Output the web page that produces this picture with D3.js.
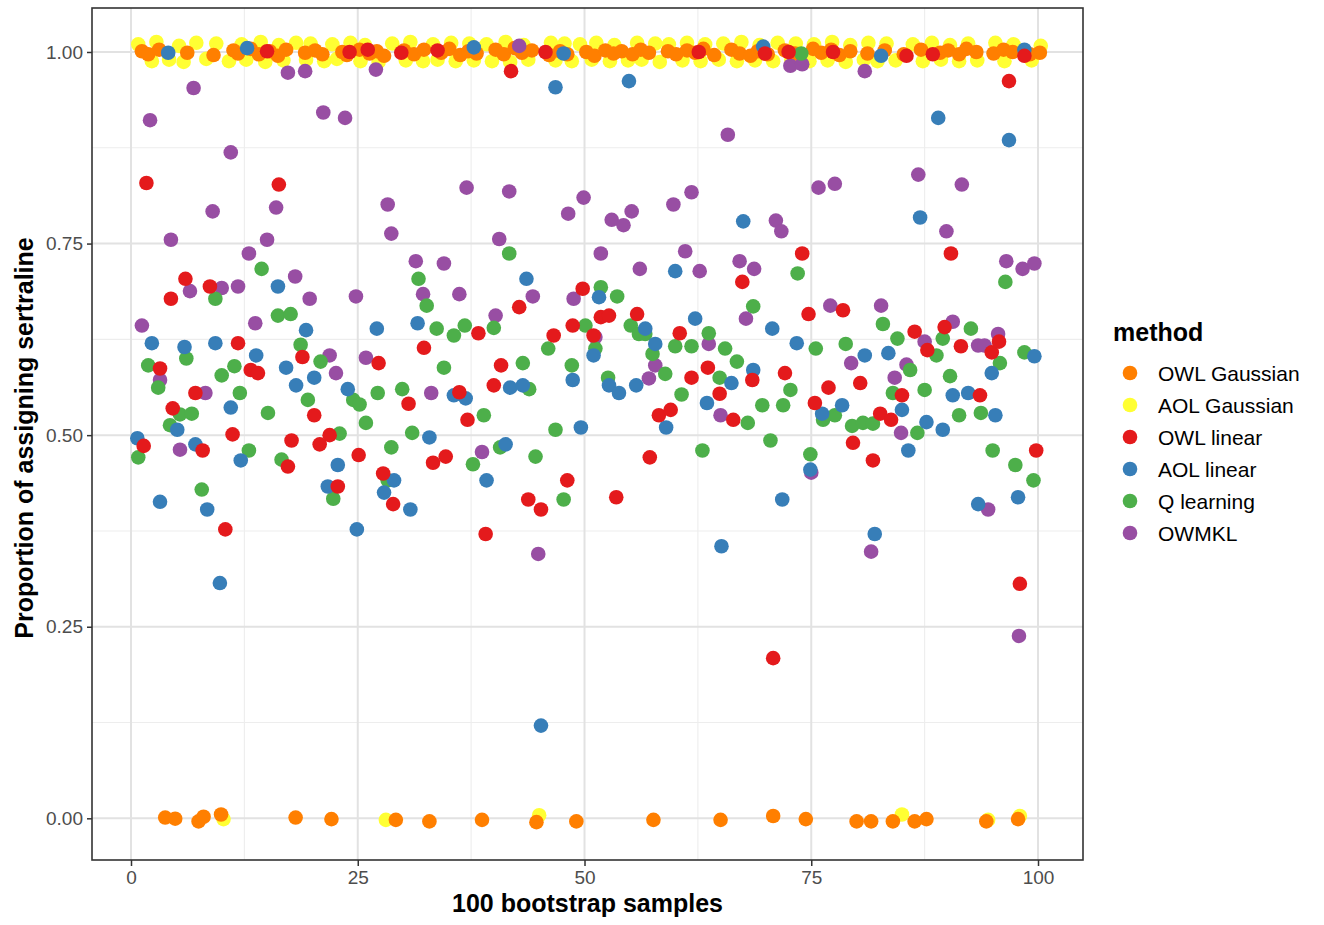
<!DOCTYPE html>
<html>
<head>
<meta charset="utf-8">
<script src="https://cdn.jsdelivr.net/npm/d3@7"></script>
<style>
  body { margin: 0; background: #fff; }
  text { font-family: "Liberation Sans", Arial, sans-serif; }
</style>
</head>
<body>
<div class="chart-container"></div>
<script>
var totalWidth = 1324;
var totalHeight = 925;
var margin = { top: 8, bottom: 65, left: 92, right: 241 };
var width = totalWidth - margin.left - margin.right;
var height = totalHeight - margin.top - margin.bottom;

var methods = ['OWL Gaussian', 'AOL Gaussian', 'OWL linear', 'AOL linear', 'Q learning', 'OWMKL'];
var methodColors = ['#FF7F00', '#FFFF33', '#E41A1C', '#377EB8', '#4DAF4A', '#984EA3'];
var xTicks = [0, 25, 50, 75, 100];
var yTicks = [0, 0.25, 0.5, 0.75, 1];

// [jittered sample position, proportion]
var owlGaussian = [[1.2,1.001],[1.9,0.997],[3.1,1.003],[3.77,0.001],[4.87,-0.0005],[6.2,0.999],[7.45,-0.004],[8.0,0.002],[9.1,0.996],[9.93,0.005],[11.3,1.002],[11.8,0.998],[13.2,1.004],[14.1,0.997],[15.3,1.001],[16.2,0.995],[17.1,1.003],[18.15,0.001],[19.2,0.999],[20.3,1.002],[21.1,0.997],[22.1,-0.001],[23.3,1.0],[23.8,0.996],[25.2,1.003],[26.3,0.998],[27.1,1.001],[27.9,0.995],[29.2,-0.002],[30.1,1.002],[31.2,0.997],[32.3,1.003],[32.9,-0.004],[34.2,0.999],[35.1,1.004],[36.3,0.996],[37.2,1.001],[38.1,0.998],[38.7,-0.002],[40.2,1.003],[41.1,0.997],[42.3,1.005],[43.1,0.999],[44.2,1.002],[44.7,-0.005],[46.1,0.996],[47.3,1.001],[48.1,0.997],[49.1,-0.004],[50.2,1.0],[51.1,0.995],[52.3,1.002],[53.2,0.998],[54.1,1.001],[55.3,0.997],[56.2,1.003],[57.1,0.999],[57.6,-0.002],[59.2,1.001],[60.1,0.997],[61.3,1.002],[62.2,0.999],[63.1,1.004],[64.3,0.996],[65.0,-0.002],[66.2,1.003],[67.1,0.998],[68.3,0.995],[69.1,1.001],[70.2,0.997],[70.8,0.003],[72.1,1.002],[73.2,0.998],[74.4,-0.001],[75.2,1.004],[76.1,0.999],[77.2,1.003],[78.1,0.996],[79.3,1.001],[80.0,-0.004],[81.2,0.998],[81.6,-0.004],[83.1,1.002],[84.0,-0.004],[85.2,0.997],[86.4,-0.004],[87.1,1.003],[87.7,-0.001],[89.2,0.999],[90.1,1.002],[91.3,0.997],[92.1,1.004],[93.2,1.0],[94.3,-0.004],[95.1,0.998],[96.2,1.003],[97.2,1.0],[97.8,-0.001],[99.1,0.997],[100.2,0.999]];

var aolGaussian = [[0.8,1.010],[2.3,0.988],[2.8,1.013],[4.2,0.990],[5.3,1.008],[5.8,0.987],[7.2,1.012],[8.3,0.991],[9.4,1.011],[10.2,-0.001],[10.8,0.988],[12.2,1.010],[12.7,0.990],[14.3,1.013],[14.8,0.987],[16.3,1.009],[16.8,0.989],[18.2,1.012],[19.3,0.990],[19.8,1.011],[21.3,0.988],[22.2,1.010],[22.7,0.991],[24.2,1.012],[25.3,0.988],[25.8,1.009],[27.3,0.987],[28.1,-0.002],[28.8,1.011],[30.3,0.989],[30.8,1.013],[32.2,0.988],[33.3,1.010],[33.8,0.990],[35.3,1.012],[35.8,0.988],[37.3,1.011],[37.8,0.989],[39.2,1.010],[39.8,0.988],[41.3,1.013],[41.8,0.987],[43.3,1.009],[43.8,0.990],[45.0,0.004],[46.3,1.012],[46.8,0.989],[47.8,1.011],[48.6,0.988],[49.5,1.010],[50.8,0.990],[51.3,1.012],[52.8,0.988],[53.3,1.009],[54.8,0.989],[55.8,1.012],[56.3,0.990],[57.8,1.011],[58.3,0.987],[59.3,1.010],[60.8,0.989],[61.3,1.012],[62.8,0.988],[63.3,1.010],[64.8,0.990],[65.3,1.011],[66.8,0.988],[67.3,1.013],[68.8,0.989],[69.3,1.009],[70.8,0.988],[71.3,1.012],[72.8,0.990],[73.3,1.011],[74.8,0.988],[75.3,1.010],[76.8,0.989],[77.3,1.013],[78.8,0.987],[79.3,1.009],[80.8,0.990],[81.3,1.012],[82.3,0.988],[83.3,1.011],[84.3,0.989],[85.0,0.005],[86.2,1.010],[87.3,0.988],[88.3,1.012],[89.3,0.990],[90.3,1.009],[91.3,0.988],[92.3,1.011],[93.3,0.989],[94.5,-0.002],[95.3,1.012],[96.3,0.988],[97.3,1.010],[98.0,0.003],[99.3,0.989],[100.3,1.008]];

var owlLinear = [[1.4,0.486],[1.7,0.829],[3.2,0.587],[4.4,0.678],[4.6,0.535],[6.0,0.704],[7.1,0.555],[7.9,0.480],[8.7,0.694],[10.4,0.377],[11.2,0.501],[11.8,0.620],[13.2,0.585],[14.0,0.581],[15.0,1.001],[16.3,0.827],[17.3,0.459],[17.7,0.493],[18.9,0.602],[20.2,0.526],[20.8,0.488],[21.9,0.500],[22.8,0.433],[24.1,1.0],[25.1,0.474],[26.1,1.003],[27.3,0.594],[27.8,0.450],[28.9,0.410],[29.8,0.999],[30.6,0.541],[32.3,0.614],[33.3,0.464],[33.8,1.002],[34.7,0.472],[36.2,0.556],[37.1,0.520],[38.3,0.633],[39.1,0.371],[40.0,0.565],[40.8,0.591],[41.9,0.975],[42.8,0.667],[43.8,0.416],[45.2,0.403],[45.7,1.0],[46.6,0.630],[48.1,0.441],[48.7,0.643],[49.8,0.691],[51.0,0.630],[51.8,0.654],[52.7,0.656],[53.5,0.419],[55.8,0.658],[57.2,0.471],[58.2,0.526],[59.5,0.533],[60.5,0.633],[61.8,0.575],[62.6,1.0],[63.6,0.588],[64.9,0.554],[66.4,0.520],[67.4,0.700],[68.5,0.572],[69.9,0.998],[70.8,0.209],[72.1,0.581],[72.5,1.0],[74.0,0.737],[74.7,0.658],[75.4,0.542],[76.9,0.562],[77.4,1.0],[78.5,0.663],[79.6,0.490],[80.4,0.568],[81.8,0.467],[82.6,0.528],[83.8,0.520],[85.0,0.552],[85.5,0.995],[86.4,0.635],[87.8,0.611],[88.4,0.997],[89.7,0.641],[90.4,0.737],[91.5,0.616],[93.6,0.552],[94.9,0.608],[95.7,0.622],[96.8,0.962],[98.0,0.306],[98.5,0.995],[99.8,0.480]];

var aolLinear = [[0.7,0.496],[2.3,0.620],[3.2,0.413],[4.1,0.999],[5.1,0.507],[5.9,0.615],[7.1,0.488],[8.4,0.403],[9.3,0.620],[9.8,0.307],[11.0,0.536],[12.1,0.467],[12.8,1.005],[13.8,0.604],[16.2,0.694],[17.1,0.588],[18.2,0.565],[19.3,0.637],[20.2,0.575],[21.7,0.433],[22.8,0.461],[23.9,0.560],[24.9,0.377],[27.1,0.639],[27.9,0.425],[29.0,0.441],[30.8,0.403],[31.6,0.646],[32.9,0.497],[35.6,0.552],[36.9,0.548],[37.8,1.006],[39.2,0.441],[41.3,0.488],[41.8,0.562],[43.2,0.565],[43.6,0.704],[45.2,0.121],[46.8,0.954],[47.7,0.998],[48.7,0.572],[49.6,0.510],[51.0,0.604],[51.6,0.680],[52.7,0.565],[53.8,0.555],[54.9,0.962],[55.7,0.565],[56.7,0.639],[57.8,0.619],[59.0,0.510],[60.0,0.714],[62.2,0.652],[63.5,0.542],[65.1,0.355],[66.2,0.568],[67.5,0.779],[68.6,0.585],[69.7,1.007],[70.7,0.639],[71.8,0.416],[73.4,0.620],[74.9,0.455],[76.2,0.528],[78.4,0.539],[80.9,0.604],[82.0,0.371],[82.7,0.995],[83.5,0.607],[85.0,0.533],[85.7,0.480],[87.0,0.784],[87.7,0.517],[89.0,0.914],[89.5,0.507],[90.6,0.552],[92.3,0.555],[93.4,0.410],[94.9,0.581],[95.3,0.526],[96.8,0.885],[97.8,0.419],[98.5,1.003],[99.6,0.603]];

var qLearning = [[0.8,0.471],[1.9,0.591],[3.0,0.562],[4.3,0.513],[5.4,0.527],[6.1,0.600],[6.7,0.528],[7.8,0.429],[9.3,0.678],[10.0,0.578],[11.4,0.590],[12.0,0.555],[13.0,0.480],[14.4,0.717],[15.1,0.529],[16.2,0.656],[16.6,0.468],[17.6,0.658],[18.7,0.618],[19.5,0.546],[20.9,0.596],[22.3,0.417],[23.0,0.502],[24.5,0.546],[25.2,0.540],[25.9,0.516],[27.2,0.555],[28.3,0.441],[28.7,0.484],[29.9,0.560],[31.0,0.503],[31.7,0.704],[32.6,0.669],[33.7,0.639],[34.5,0.588],[35.6,0.630],[36.8,0.643],[37.7,0.462],[38.9,0.526],[40.0,0.640],[40.7,0.484],[41.7,0.737],[43.2,0.594],[43.9,0.560],[44.6,0.472],[46.0,0.613],[46.8,0.507],[47.7,0.416],[48.6,0.591],[50.1,0.643],[51.2,0.613],[51.8,0.693],[52.6,0.575],[53.6,0.681],[55.1,0.643],[56.0,0.632],[56.7,0.632],[57.5,0.606],[58.9,0.580],[60.0,0.616],[60.7,0.553],[61.8,0.616],[63.0,0.480],[63.7,0.633],[64.9,0.575],[65.5,0.613],[66.8,0.596],[68.0,0.516],[68.6,0.668],[69.6,0.539],[70.5,0.493],[71.9,0.539],[72.7,0.559],[73.5,0.711],[73.9,0.998],[74.9,0.475],[75.5,0.613],[76.3,0.520],[77.6,0.526],[78.8,0.619],[79.5,0.512],[80.7,0.516],[81.8,0.515],[82.9,0.645],[84.0,0.555],[84.5,0.626],[85.9,0.585],[86.7,0.503],[87.5,0.559],[88.8,0.604],[89.5,0.626],[90.3,0.577],[91.3,0.526],[92.6,0.639],[93.7,0.529],[95.0,0.480],[95.8,0.594],[96.4,0.700],[97.5,0.461],[98.5,0.608],[99.5,0.441]];

var owmkl = [[1.2,0.643],[2.1,0.911],[3.2,0.572],[4.4,0.755],[5.4,0.481],[6.5,0.688],[6.9,0.953],[8.2,0.555],[9.0,0.792],[10.0,0.692],[11.0,0.869],[11.8,0.694],[13.0,0.737],[13.7,0.646],[15.0,0.755],[16.0,0.797],[17.3,0.973],[18.1,0.707],[19.2,0.975],[19.7,0.678],[21.2,0.921],[21.9,0.604],[22.6,0.581],[23.6,0.914],[24.8,0.681],[25.9,0.601],[27.0,0.977],[28.3,0.801],[28.7,0.763],[31.4,0.727],[32.2,0.684],[33.1,0.555],[34.5,0.724],[36.2,0.684],[37.0,0.823],[38.7,0.478],[40.2,0.656],[40.6,0.756],[41.7,0.818],[42.8,1.008],[44.3,0.681],[44.9,0.345],[48.2,0.789],[48.8,0.678],[49.9,0.810],[51.2,0.628],[51.8,0.737],[53.0,0.781],[54.3,0.774],[55.2,0.792],[56.1,0.717],[57.1,0.574],[57.8,0.591],[59.8,0.801],[61.1,0.740],[61.8,0.817],[62.7,0.714],[63.7,0.619],[65.0,0.526],[65.8,0.892],[67.1,0.727],[67.8,0.652],[68.7,0.717],[71.1,0.780],[71.7,0.766],[72.7,0.982],[74.0,0.984],[75.0,0.451],[75.8,0.823],[77.1,0.669],[77.6,0.828],[79.4,0.594],[80.9,0.975],[81.6,0.348],[82.7,0.669],[84.2,0.575],[84.9,0.503],[85.5,0.592],[86.8,0.840],[87.5,0.622],[89.9,0.766],[90.6,0.648],[91.6,0.827],[93.4,0.617],[94.1,0.617],[94.5,0.403],[95.6,0.632],[96.5,0.727],[97.9,0.238],[98.3,0.717],[99.6,0.724]];

var seriesByMethod = {
  'OWL Gaussian': owlGaussian,
  'AOL Gaussian': aolGaussian,
  'OWL linear': owlLinear,
  'AOL linear': aolLinear,
  'Q learning': qLearning,
  'OWMKL': owmkl
};
// order the layers are painted in
var drawOrder = ['AOL Gaussian', 'OWL Gaussian', 'OWMKL', 'Q learning', 'AOL linear', 'OWL linear'];

buildChart();

function buildChart() {
  var svg = d3.select('.chart-container').append('svg')
    .attr('width', totalWidth)
    .attr('height', totalHeight);

  var color = d3.scaleOrdinal().domain(methods).range(methodColors);

  var x = d3.scaleLinear().domain([-4.3, 104.96]).range([0, width]);
  var y = d3.scaleLinear().domain([-0.0544, 1.0574]).range([height, 0]);

  var panel = svg.append('g')
    .attr('transform', `translate(${margin.left}, ${margin.top})`);

  panel.append('rect')
    .attr('width', width).attr('height', height)
    .attr('fill', '#fff');

  // grid (minor then major)
  var minorX = [12.5, 37.5, 62.5, 87.5];
  var minorY = [0.125, 0.375, 0.625, 0.875];
  panel.selectAll('.gx-minor').data(minorX).enter().append('line')
    .attr('x1', d => x(d)).attr('x2', d => x(d))
    .attr('y1', 0).attr('y2', height)
    .attr('stroke', '#ededed').attr('stroke-width', 1.1);
  panel.selectAll('.gy-minor').data(minorY).enter().append('line')
    .attr('y1', d => y(d)).attr('y2', d => y(d))
    .attr('x1', 0).attr('x2', width)
    .attr('stroke', '#ededed').attr('stroke-width', 1.1);
  panel.selectAll('.gx-major').data(xTicks).enter().append('line')
    .attr('x1', d => x(d)).attr('x2', d => x(d))
    .attr('y1', 0).attr('y2', height)
    .attr('stroke', '#e2e2e2').attr('stroke-width', 2);
  panel.selectAll('.gy-major').data(yTicks).enter().append('line')
    .attr('y1', d => y(d)).attr('y2', d => y(d))
    .attr('x1', 0).attr('x2', width)
    .attr('stroke', '#e2e2e2').attr('stroke-width', 2);

  drawOrder.forEach(function(m) {
    panel.append('g').selectAll('circle')
      .data(seriesByMethod[m]).enter()
      .append('circle')
        .attr('cx', d => x(d[0]))
        .attr('cy', d => y(d[1]))
        .attr('r', 7.3)
        .attr('fill', color(m));
  });

  panel.append('rect')
    .attr('width', width).attr('height', height)
    .attr('fill', 'none')
    .attr('stroke', '#333').attr('stroke-width', 1.6);

  /*
   * Axes
   */
  var xAxis = d3.axisBottom(x).tickValues(xTicks).tickFormat(d3.format('d'))
    .tickSize(6).tickPadding(5);
  var yAxis = d3.axisLeft(y).tickValues(yTicks).tickFormat(d3.format('.2f'))
    .tickSize(5).tickPadding(4);

  var gX = svg.append('g')
    .attr('transform', `translate(${margin.left}, ${margin.top + height})`)
    .call(xAxis);
  var gY = svg.append('g')
    .attr('transform', `translate(${margin.left}, ${margin.top})`)
    .call(yAxis);

  [gX, gY].forEach(function(g) {
    g.select('.domain').remove();
    g.selectAll('.tick line').attr('stroke', '#333').attr('stroke-width', 1.5);
    g.selectAll('.tick text')
      .attr('fill', '#4d4d4d')
      .style('font-size', '19px')
      .style('font-family', '"Liberation Sans", Arial, sans-serif');
  });

  svg.append('text')
    .text('100 bootstrap samples')
    .attr('x', margin.left + width / 2)
    .attr('y', 912)
    .attr('text-anchor', 'middle')
    .style('font-size', '25px')
    .style('font-weight', 'bold');

  svg.append('text')
    .text('Proportion of assigning sertraline')
    .attr('text-anchor', 'middle')
    .attr('transform', `translate(33, ${margin.top + height / 2 + 4}) rotate(-90)`)
    .style('font-size', '25px')
    .style('font-weight', 'bold');

  /*
   * Legend
   */
  var legend = svg.append('g').attr('transform', 'translate(1113, 0)');
  legend.append('text')
    .text('method')
    .attr('x', 0).attr('y', 341)
    .style('font-size', '25px')
    .style('font-weight', 'bold');

  var items = legend.selectAll('.item').data(methods).enter().append('g')
    .attr('transform', (d, i) => `translate(0, ${373 + i * 32})`);
  items.append('circle')
    .attr('cx', 17).attr('cy', 0).attr('r', 7.3)
    .attr('fill', d => color(d));
  items.append('text')
    .text(d => d)
    .attr('x', 45).attr('y', 0)
    .attr('dominant-baseline', 'central')
    .style('font-size', '21px');
}
</script>
</body>
</html>
